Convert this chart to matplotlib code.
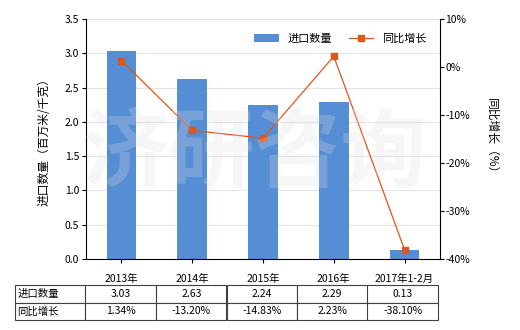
import matplotlib.pyplot as plt
import numpy as np

plt.rcParams['font.family'] = ['Noto Sans CJK SC', 'DejaVu Sans']

categories = ['2013年', '2014年', '2015年', '2016年', '2017年1-2月']
import_qty = [3.03, 2.63, 2.24, 2.29, 0.13]
yoy_growth = [1.34, -13.20, -14.83, 2.23, -38.10]
qty_labels = ['3.03', '2.63', '2.24', '2.29', '0.13']
growth_labels = ['1.34%', '-13.20%', '-14.83%', '2.23%', '-38.10%']

bar_color = '#558ED5'
line_color = '#E0561A'

fig = plt.figure(figsize=(5.2, 3.3), dpi=100)
ax = fig.add_axes([86 / 520, 1 - 259 / 330, 354 / 520, 240 / 330])
x = np.arange(len(categories))

bars = ax.bar(x, import_qty, width=0.42, color=bar_color, zorder=2, label='进口数量')
ax.set_xlim(-0.5, len(categories) - 0.5)
ax.set_ylim(0, 3.5)
ax.set_yticks(np.arange(0, 3.51, 0.5))
ax.set_yticklabels(['%.1f' % v for v in np.arange(0, 3.51, 0.5)], fontsize=7.5)
ax.set_xticks(x)
ax.set_xticklabels(categories, fontsize=7.5)
ax.grid(axis='y', color='#E3E3E3', linewidth=0.8, zorder=0)
ax.spines['top'].set_visible(False)
ax.spines['right'].set_visible(False)
ax.tick_params(axis='both', length=3, width=0.8, pad=2)
ax.tick_params(axis='x', pad=8)
ax.set_ylabel('进口数量（百万米/千克）', fontsize=8.5, labelpad=10)

# watermark
fig.text(0.49, 0.53, '济研咨询', fontsize=62, color='#DDDDDD', alpha=0.25,
         ha='center', va='center', fontweight='bold', zorder=5)

ax2 = ax.twinx()
ln, = ax2.plot(x, yoy_growth, color=line_color, marker='s', markersize=4.5,
               linewidth=0.9, label='同比增长', zorder=3)
ax2.set_ylim(-40, 10)
ax2.set_yticks(np.arange(-40, 11, 10))
ax2.set_yticklabels(['%d%%' % v for v in np.arange(-40, 11, 10)], fontsize=7.5)
ax2.spines['top'].set_visible(False)
ax2.spines['left'].set_visible(False)
ax2.spines['bottom'].set_visible(False)
ax2.tick_params(axis='y', length=3, width=0.8, pad=1)
ax2.set_ylabel('同比增长（%）', fontsize=8.5, rotation=-90, labelpad=20)

ax.legend([bars, ln], ['进口数量', '同比增长'], loc='upper right', ncol=2,
          frameon=False, fontsize=8, bbox_to_anchor=(0.99, 0.98),
          handlelength=2.2, columnspacing=1.5)

rows = [['进口数量'] + qty_labels, ['同比增长'] + growth_labels]
tbl = ax.table(cellText=rows, cellLoc='center',
               bbox=[(15 - 86) / 354, -(320 - 259) / 240, 423 / 354, 35 / 240])
tbl.auto_set_font_size(False)
tbl.set_fontsize(7.5)
for (r, c), cell in tbl.get_celld().items():
    cell.set_edgecolor('#404040')
    cell.set_linewidth(0.8)
    if c == 0:
        cell.set_text_props(ha='left')
        cell.PAD = 0.03

fig.savefig('out.png', dpi=100)
